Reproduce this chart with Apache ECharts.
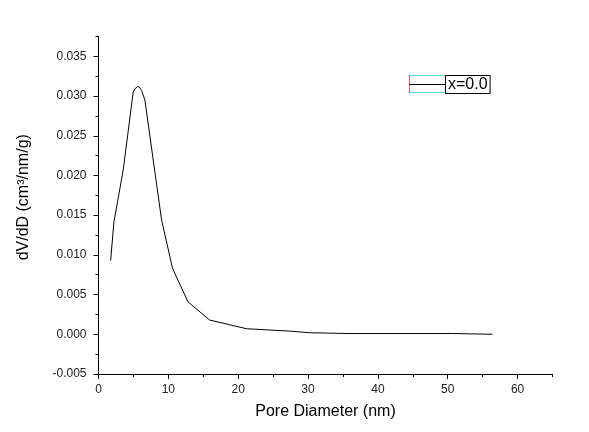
<!DOCTYPE html>
<html><head><meta charset="utf-8">
<script src="https://cdn.jsdelivr.net/npm/echarts@6/dist/echarts.min.js"></script>
<style>html,body{margin:0;padding:0;background:#fff}#c{width:589px;height:432px}</style>
</head><body><div id="c"></div>
<script>
const poreDiameter = [1.74, 2.21, 3.54, 4.97, 5.29, 5.6, 5.89, 6.17, 6.64, 9.03, 10.6, 12.8, 15.9, 21.2, 27.4, 30.2, 35.7, 50.7, 56.4];
const dVdD = [0.0093, 0.01415, 0.0207, 0.0305, 0.0310, 0.0312, 0.0311, 0.0307, 0.0295, 0.0144, 0.0083, 0.0041, 0.0018, 0.0007, 0.0004, 0.0002, 0.0001, 0.0001, 0.0];
const xMajorTicks = [0, 10, 20, 30, 40, 50, 60];
const xMinorTicks = [5, 15, 25, 35, 45, 55, 65];
const yMajorTicks = [-0.005, 0, 0.005, 0.01, 0.015, 0.02, 0.025, 0.03, 0.035];
const yMinorTicks = [-0.0025, 0.0025, 0.0075, 0.0125, 0.0175, 0.0225, 0.0275, 0.0325, 0.0375];
const seriesName = 'x=0.0';

const font = 'Liberation Sans, Arial, sans-serif';
const chart = echarts.init(document.getElementById('c'));
const baseX = {type:'value', min:0, max:65, splitLine:{show:false}, position:'bottom'};
const baseY = {type:'value', min:-0.005, max:0.0375, splitLine:{show:false}, position:'left'};
chart.setOption({
  animation:false,
  backgroundColor:'#fff',
  grid:{left:98.5, right:36.5, top:36.5, bottom:58, containLabel:false},
  legend:{
    left:409, top:75, itemWidth:32, itemHeight:1, itemGap:0, padding:0,
    icon:'rect',
    data:[seriesName],
    textStyle:{fontFamily:font, fontSize:16, color:'#000', borderColor:'#000', borderWidth:1, padding:[1,2,0,2], backgroundColor:'#fff'}
  },
  graphic:[
    {type:'line', shape:{x1:441, y1:84.5, x2:447, y2:84.5}, style:{stroke:'#000', lineWidth:1}},
    {type:'line', shape:{x1:410, y1:75.5, x2:447, y2:75.5}, style:{stroke:'#5fd9e6', lineWidth:1}},
    {type:'line', shape:{x1:410, y1:92.5, x2:447, y2:92.5}, style:{stroke:'#5fd9e6', lineWidth:1}},
    {type:'line', shape:{x1:409.5, y1:75, x2:409.5, y2:93}, style:{stroke:'#d06070', lineWidth:1}}
  ],
  xAxis:[
    Object.assign({}, baseX, {
      name:'Pore Diameter (nm)', nameLocation:'middle', nameGap:30,
      nameTextStyle:{fontFamily:font, fontSize:16, color:'#000'},
      axisLine:{show:true, onZero:false, lineStyle:{color:'#000', width:1}},
      axisTick:{show:true, inside:false, length:5, customValues:xMajorTicks, lineStyle:{color:'#000'}},
      axisLabel:{show:true, customValues:xMajorTicks, margin:10, fontFamily:font, fontSize:12, color:'#222'}
    }),
    Object.assign({}, baseX, {
      axisLine:{show:false, onZero:false},
      axisTick:{show:true, inside:false, length:3, customValues:xMinorTicks, lineStyle:{color:'#000'}},
      axisLabel:{show:false}
    })
  ],
  yAxis:[
    Object.assign({}, baseY, {
      name:'dV/dD (cm³/nm/g)', nameLocation:'middle', nameGap:67,
      nameTextStyle:{fontFamily:font, fontSize:16, color:'#000', padding:[0,0,0,16]},
      axisLine:{show:true, onZero:false, lineStyle:{color:'#000', width:1}},
      axisTick:{show:true, inside:false, length:5, customValues:yMajorTicks, lineStyle:{color:'#000'}},
      axisLabel:{show:true, customValues:yMajorTicks, margin:12, fontFamily:font, fontSize:12, color:'#222',
        formatter:v=>v.toFixed(3)}
    }),
    Object.assign({}, baseY, {
      axisLine:{show:false, onZero:false},
      axisTick:{show:true, inside:false, length:3, customValues:yMinorTicks, lineStyle:{color:'#000'}},
      axisLabel:{show:false}
    })
  ],
  series:[{
    name:seriesName, type:'line', xAxisIndex:0, yAxisIndex:0,
    data:poreDiameter.map((x,i)=>[x, dVdD[i]]),
    showSymbol:false, symbol:'none',
    lineStyle:{color:'#000', width:1}, itemStyle:{color:'#000'}
  }]
});
</script></body></html>
